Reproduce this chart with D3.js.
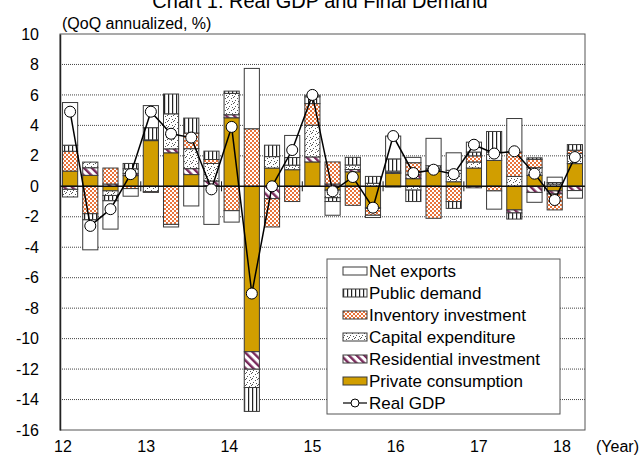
<!DOCTYPE html>
<html>
<head>
<meta charset="utf-8">
<script src="https://cdn.jsdelivr.net/npm/d3@7"></script>
<style>
  body { margin: 0; background: #fff; }
  svg { font-family: "Liberation Sans", Arial, sans-serif; }
</style>
</head>
<body>
<script>
// quarters 2012Q1 .. 2018Q2, contributions in % points (QoQ annualized)
var quarters = ['12Q1','12Q2','12Q3','12Q4','13Q1','13Q2','13Q3','13Q4',
                '14Q1','14Q2','14Q3','14Q4','15Q1','15Q2','15Q3','15Q4',
                '16Q1','16Q2','16Q3','16Q4','17Q1','17Q2','17Q3','17Q4',
                '18Q1','18Q2'];
var privateConsumption = [1.0, 0.72, -0.3, 0.7, 3.0, 2.2, 0.77, 0.05, 4.5, -10.86, 1.2, 1.09, 1.6,
                          -0.25, 0.95, -1.4, 0.85, 0.5, 1.0, 0.3, 1.2, 1.7, -1.55, 0.72, -0.3, 1.49];
var residential = [-0.2, 0.5, 0.15, 0.15, 0.05, 0.26, 0.39, 0.3, 0.2, -1.15, -0.81, 0.0, 0.33,
                   0.15, 0.15, -0.05, 0.05, 0.25, 0.1, 0.0, -0.1, 0.0, -0.2, -0.4, -0.2, -0.28];
var capex = [-0.5, 0.37, -0.3, 0.3, -0.35, 2.3, 1.31, 1.15, 1.4, -1.2, 0.75, 0.3, 2.08,
             -0.5, 0.3, 0.2, 0.1, -0.25, 0.1, 0.75, 0.4, 0.55, 0.65, 0.5, 0.15, 0.66];
var inventory = [1.3, -1.8, 1.05, -0.15, -0.05, -2.5, 1.03, 0.26, -1.6, 3.78, -1.86, -1.0, 1.42,
                 1.45, -1.25, -0.45, -0.05, 0.8, -2.1, -1.0, 0.4, -0.3, 1.6, 0.55, -1.05, 0.22];
var publicDemand = [0.4, -0.4, -0.35, 0.35, 0.8, 1.3, 0.98, 0.55, 0.15, -1.57, 0.75, 0.5, 0.45,
                    -0.25, 0.5, 0.45, 0.8, -0.75, 0.15, -0.45, 0.25, 1.35, -0.4, 0.1, 0.1, 0.37];
var netExports = [2.8, -1.97, -1.86, -0.5, 1.45, -0.17, -1.29, -2.5, -0.75, 3.96, 0.0, 1.45, 0.1,
                  -0.9, 0.0, -0.15, 1.5, 0.35, 1.8, 1.15, 0.65, -1.2, 2.2, -0.65, 0.35, -0.5];
var realGDP = [4.9, -2.6, -1.5, 0.8, 4.9, 3.45, 3.2, -0.2, 3.9, -7.04, 0.0, 2.38, 6.0,
               -0.33, 0.61, -1.4, 3.3, 0.87, 1.09, 0.8, 2.73, 2.15, 2.3, 0.83, -0.9, 1.92];
var yTicks = [10, 8, 6, 4, 2, 0, -2, -4, -6, -8, -10, -12, -14, -16];
var yearLabels = ['12', '13', '14', '15', '16', '17', '18'];

var width = 640, height = 458;
var plot = {left: 60, right: 585, top: 34, bottom: 430};

var series = [
  {key: 'pc', name: 'Private consumption', values: privateConsumption, fill: '#d19e00'},
  {key: 'res', name: 'Residential investment', values: residential, fill: 'url(#hatch)'},
  {key: 'capex', name: 'Capital expenditure', values: capex, fill: 'url(#dots)'},
  {key: 'inv', name: 'Inventory investment', values: inventory, fill: 'url(#checker)'},
  {key: 'pub', name: 'Public demand', values: publicDemand, fill: 'url(#vlines)'},
  {key: 'nx', name: 'Net exports', values: netExports, fill: '#fff'}
];

var rows = quarters.map(function (q, i) {
  var r = {q: q};
  series.forEach(function (s) { r[s.key] = s.values[i]; });
  return r;
});

var svg = d3.select('body').append('svg').attr('width', width).attr('height', height);
var defs = svg.append('defs');

// hatch for residential investment
var hatch = defs.append('pattern').attr('id', 'hatch').attr('patternUnits', 'userSpaceOnUse')
  .attr('width', 5.5).attr('height', 5.5).attr('patternTransform', 'rotate(-45)');
hatch.append('rect').attr('width', 5.5).attr('height', 5.5).attr('fill', '#fff');
hatch.append('rect').attr('width', 2.4).attr('height', 5.5).attr('fill', '#7a2a5c');

// dotted for capex
var dots = defs.append('pattern').attr('id', 'dots').attr('patternUnits', 'userSpaceOnUse')
  .attr('width', 6).attr('height', 6);
dots.append('rect').attr('width', 6).attr('height', 6).attr('fill', '#fff');
[[0, 0], [3, 2], [1, 4], [4, 5], [5, 1]].forEach(function (p) {
  dots.append('rect').attr('x', p[0]).attr('y', p[1]).attr('width', 1).attr('height', 1).attr('fill', '#555');
});

// checker for inventory
var checker = defs.append('pattern').attr('id', 'checker').attr('patternUnits', 'userSpaceOnUse')
  .attr('width', 4).attr('height', 4);
checker.append('rect').attr('width', 4).attr('height', 4).attr('fill', '#fff');
checker.append('rect').attr('width', 2).attr('height', 2).attr('fill', '#e8733a');
checker.append('rect').attr('x', 2).attr('y', 2).attr('width', 2).attr('height', 2).attr('fill', '#e8733a');

// vertical lines for public demand
var vlines = defs.append('pattern').attr('id', 'vlines').attr('patternUnits', 'userSpaceOnUse')
  .attr('width', 4).attr('height', 4);
vlines.append('rect').attr('width', 4).attr('height', 4).attr('fill', '#fff');
vlines.append('rect').attr('width', 1.2).attr('height', 4).attr('fill', '#222');

var x = d3.scaleBand().domain(quarters).range([plot.left, plot.right])
  .paddingInner(0.25).paddingOuter(0.125);
var y = d3.scaleLinear().domain([-16, 10]).range([plot.bottom, plot.top]);
var yearX = d3.scaleLinear().domain([12, 18]).range([plot.left + 3, plot.left + 502]);

// title (cut at top edge, as in the original)
svg.append('text').attr('x', width / 2).attr('y', 8).attr('text-anchor', 'middle')
  .style('font-size', '20px').text('Chart 1: Real GDP and Final Demand');

svg.append('text').attr('x', plot.left + 2).attr('y', 29)
  .style('font-size', '16px').text('(QoQ annualized, %)');

// gridlines
svg.append('g').selectAll('line').data(yTicks.filter(function (d) { return d !== 0 && d !== 10 && d !== -16; }))
  .enter().append('line')
  .attr('x1', plot.left).attr('x2', plot.right)
  .attr('y1', function (d) { return y(d); }).attr('y2', function (d) { return y(d); })
  .attr('stroke', '#444').attr('stroke-width', 1).attr('stroke-dasharray', '1,1');

// plot border
svg.append('rect').attr('x', plot.left).attr('y', plot.top)
  .attr('width', plot.right - plot.left).attr('height', plot.bottom - plot.top)
  .attr('fill', 'none').attr('stroke', '#555').attr('stroke-width', 1);

// y axis
var yAxis = svg.append('g').attr('transform', 'translate(' + plot.left + ',0)')
  .call(d3.axisLeft(y).tickValues(yTicks).tickSize(0).tickPadding(21)
    .tickFormat(function (d) { return String(d); }));
yAxis.select('.domain').attr('stroke', '#222').attr('stroke-width', 1.5);
yAxis.selectAll('text').style('font-size', '16px').style('font-family', '"Liberation Sans", Arial, sans-serif').attr('fill', '#000');

// stacked bars
var stacked = d3.stack().keys(series.map(function (s) { return s.key; }))
  .offset(d3.stackOffsetDiverging)(rows);

svg.append('g').selectAll('g').data(stacked).enter().append('g')
  .attr('fill', function (d, i) { return series[i].fill; })
  .selectAll('rect').data(function (d) { return d; }).enter().append('rect')
  .attr('x', function (d) { return x(d.data.q); })
  .attr('width', x.bandwidth())
  .attr('y', function (d) { return y(Math.max(d[0], d[1])); })
  .attr('height', function (d) { return Math.abs(y(d[0]) - y(d[1])); })
  .attr('stroke', '#3a3a3a').attr('stroke-width', 1);

// zero line + year boundary ticks
svg.append('line').attr('x1', plot.left).attr('x2', plot.right)
  .attr('y1', y(0)).attr('y2', y(0)).attr('stroke', '#111').attr('stroke-width', 1.5);
var step = x.step();
svg.append('g').selectAll('line').data(d3.range(1, 7)).enter().append('line')
  .attr('x1', function (d) { return plot.left + d * 4 * step; })
  .attr('x2', function (d) { return plot.left + d * 4 * step; })
  .attr('y1', y(0) - 5).attr('y2', y(0) + 5)
  .attr('stroke', '#111').attr('stroke-width', 1);

// real GDP line
var line = d3.line()
  .x(function (d, i) { return x(quarters[i]) + x.bandwidth() / 2; })
  .y(function (d) { return y(d); });
svg.append('path').datum(realGDP).attr('d', line)
  .attr('fill', 'none').attr('stroke', '#000').attr('stroke-width', 1.5);
svg.append('g').selectAll('circle').data(realGDP).enter().append('circle')
  .attr('cx', function (d, i) { return x(quarters[i]) + x.bandwidth() / 2; })
  .attr('cy', function (d) { return y(d); })
  .attr('r', 5.5).attr('fill', '#fff').attr('stroke', '#000').attr('stroke-width', 1);

// x labels
svg.append('g').selectAll('text').data(yearLabels).enter().append('text')
  .attr('x', function (d) { return yearX(+d); }).attr('y', 452)
  .attr('text-anchor', 'middle').style('font-size', '16px').text(function (d) { return d; });
svg.append('text').attr('x', 596).attr('y', 452).style('font-size', '16px').text('(Year)');

// legend
var legend = svg.append('g').attr('transform', 'translate(327,259)');
legend.append('rect').attr('width', 233).attr('height', 155)
  .attr('fill', '#fff').attr('stroke', '#555').attr('stroke-width', 1);
var legendItems = series.slice().reverse().concat([{name: 'Real GDP', line: true}]);
var li = legend.selectAll('g.item').data(legendItems).enter().append('g')
  .attr('class', 'item')
  .attr('transform', function (d, i) { return 'translate(16,' + (12 + i * 22) + ')'; });
li.filter(function (d) { return !d.line; }).append('rect')
  .attr('x', 0).attr('y', -4).attr('width', 24).attr('height', 8)
  .attr('fill', function (d) { return d.fill; }).attr('stroke', '#3a3a3a').attr('stroke-width', 1);
li.filter(function (d) { return d.line; }).append('line')
  .attr('x1', 0).attr('x2', 24).attr('y1', 0).attr('y2', 0).attr('stroke', '#000').attr('stroke-width', 1.2);
li.filter(function (d) { return d.line; }).append('circle')
  .attr('cx', 12).attr('cy', 0).attr('r', 4).attr('fill', '#fff').attr('stroke', '#000');
li.append('text').attr('x', 26).attr('y', 6).style('font-size', '17px').text(function (d) { return d.name; });
</script>
</body>
</html>
